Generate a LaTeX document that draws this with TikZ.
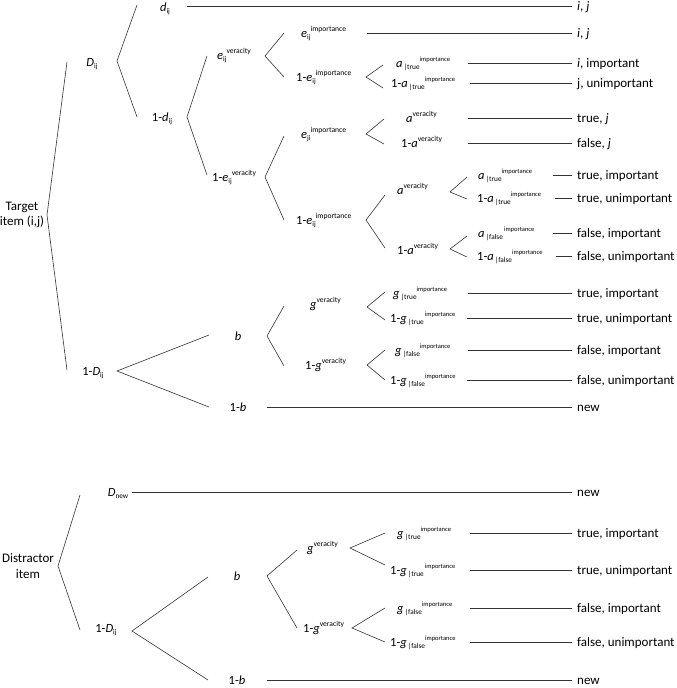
\documentclass[tikz,border=0pt]{standalone}
\usepackage{fontspec}
\setmainfont{Carlito}
\newcommand\lsub[1]{\raisebox{-0.4ex}{\fontsize{7.3}{8}\selectfont #1}}
\newcommand\lsup[1]{\raisebox{0.9ex}{\fontsize{7.6}{8}\selectfont #1}}
\newcommand\lsupr[1]{\raisebox{0.9ex}{\fontsize{6.5}{7}\selectfont #1}}
\newcommand\mkfork[7]{%
  \coordinate (#1u) at (#2,#3);
  \coordinate (#1) at (#4,#5);
  \coordinate (#1d) at (#6,#7);
  \draw[br] (#1u) -- (#1) -- (#1d);}
\newcommand\mkleaf[5]{%
  \coordinate (#1s) at (#2,#4);
  \node[fin] (#1t) at (#3,#4+4) {#5};
  \draw[br, shorten >=5pt] (#1s) -- (#1s -| #1t.west);}
\begin{document}
\begin{tikzpicture}[x=1pt,y=-1pt,
  br/.style={draw=black!80, line width=0.6pt},
  lbl/.style={inner sep=0pt, anchor=base, font=\fontsize{12.5}{14}\selectfont},
  lblw/.style={lbl, anchor=base west},
  fin/.style={inner sep=0pt, anchor=base west, font=\fontsize{13}{15}\selectfont},
  root/.style={inner sep=0pt, align=center, font=\fontsize{13}{15.5}\selectfont}]
\useasboundingbox (0,0) rectangle (677,688);

% ---------------- Target item ----------------
\node[root] (target) at (22,215) {Target\\item (i,j)};
\mkfork{r1}{67}{62}{47}{215}{67}{370}

\node[lbl] (Dij) at (92,66) {\textit{D}\lsub{ij}};
\mkfork{fD}{137}{5}{117}{61}{137}{117}

\node[lbl] (dij) at (165,11) {\textit{d}\lsub{ij}};
\mkleaf{L1}{187}{577}{6}{\textit{i}, \textit{j}}

\node[lbl] (omdij) at (162,121) {1-\textit{d}\lsub{ij}};
\mkfork{fd}{207}{56}{187}{117}{207}{175}

\node[lblw] (eijv) at (217,59) {\textit{e}\lsub{ij}\lsup{veracity}};
\mkfork{fev}{284}{33}{265}{56}{284}{77}

\node[lblw] (eiji) at (301,37) {\textit{e}\lsub{ij}\lsup{importance}};
\mkleaf{L2}{367}{577}{33}{\textit{i}, \textit{j}}

\node[lblw] (omeiji) at (296,81) {1-\textit{e}\lsub{ij}\lsup{importance}};
\mkfork{fei}{383}{65}{366}{77}{383}{88}

\node[lblw] (atrue1) at (396,67) {\textit{a}\lsub{\,|true}\lsupr{importance}};
\mkleaf{L3}{468}{577}{63}{\textit{i}, important}
\node[lblw] (omatrue1) at (391,87) {1-\textit{a}\lsub{\,|true}\lsupr{importance}};
\mkleaf{L4}{470}{577}{83}{j, unimportant}

\node[lblw] (omeijv) at (212,181) {1-\textit{e}\lsub{ij}\lsup{veracity}};
\mkfork{fev2}{284}{136}{265}{177}{284}{220}

\node[lblw] (ejii) at (301,138) {\textit{e}\lsub{ji}\lsup{importance}};
\mkfork{fej}{384}{119}{366}{134}{384}{144}

\node[lblw] (av1) at (406,122) {\textit{a}\lsup{veracity}};
\mkleaf{L5}{468}{577}{118}{true, \textit{j}}
\node[lblw] (omav1) at (401,147) {1-\textit{a}\lsup{veracity}};
\mkleaf{L6}{468}{577}{143}{false, \textit{j}}

\node[lblw] (omeiji2) at (296,224) {1-\textit{e}\lsub{ij}\lsup{importance}};
\mkfork{fei2}{385}{195}{366}{220}{385}{248}

\node[lblw] (av2) at (397,194) {\textit{a}\lsup{veracity}};
\mkfork{fav}{467}{177}{450}{192}{467}{199}
\node[lblw] (atrue2) at (478,179) {\textit{a}\lsub{\,|true}\lsupr{importance}};
\mkleaf{L7}{553}{577}{175}{true, important}
\node[lblw] (omatrue2) at (477,202) {1-\textit{a}\lsub{\,|true}\lsupr{importance}};
\mkleaf{L8}{555}{577}{198}{true, unimportant}

\node[lblw] (omav2) at (397,254) {1-\textit{a}\lsup{veracity}};
\mkfork{fomav}{467}{236}{450}{249}{467}{257}
\node[lblw] (afalse) at (478,237) {\textit{a}\lsub{\,|false}\lsupr{\,importance}};
\mkleaf{L9}{553}{577}{233}{false, important}
\node[lblw] (omafalse) at (477,260) {1-\textit{a}\lsub{\,|false}\lsupr{importance}};
\mkleaf{L10}{556}{577}{256}{false, unimportant}

\node[lbl] (omDij) at (93,375) {1-\textit{D}\lsub{ij}};
\mkfork{fomD}{209}{335}{117}{371}{209}{407}

\node[lbl] (b1) at (238,340) {\textit{b}};
\mkfork{fb1}{284}{306}{267}{336}{284}{366}

\node[lblw] (gv1) at (310,308) {\textit{g}\lsup{veracity}};
\mkfork{fgv1}{385}{292}{367}{307}{385}{320}
\node[lblw] (gtrue1) at (393,297) {\textit{g}\lsub{\,|true}\lsupr{importance}};
\mkleaf{L11}{468}{577}{293}{true, important}
\node[lblw] (omgtrue1) at (390,322) {1-\textit{g}\lsub{\,|true}\lsupr{\,importance}};
\mkleaf{L12}{467}{577}{318}{true, unimportant}

\node[lblw] (omgv1) at (305,369) {1-\textit{g}\lsup{veracity}};
\mkfork{fomgv1}{385}{350}{367}{365}{385}{380}
\node[lblw] (gfalse1) at (395,354) {\textit{g}\lsub{\,|false}\lsupr{importance}};
\mkleaf{L13}{468}{577}{350}{false, important}
\node[lblw] (omgfalse1) at (390,384) {1-\textit{g}\lsub{\,|false}\lsupr{importance}};
\mkleaf{L14}{467}{577}{380}{false, unimportant}

\node[lbl] (omb1) at (238,411) {1-\textit{b}};
\mkleaf{L15}{267}{577}{407}{new}

% ---------------- Distractor item ----------------
\node[root] (distr) at (28,566) {Distractor\\item};
\mkfork{r2}{80}{495}{58}{566}{80}{630}

\node[lbl] (Dnew) at (118,496) {\textit{D}\lsub{new}};
\mkleaf{L16}{132}{577}{492}{new}

\node[lbl] (omDij2) at (106,632) {1-\textit{D}\lsub{ij}};
\mkfork{fomD2}{208}{577}{132}{631}{208}{680}

\node[lbl] (b2) at (237,580) {\textit{b}};
\mkfork{fb2}{297}{550}{267}{576}{297}{628}

\node[lblw] (gv2) at (307,552) {\textit{g}\lsup{veracity}};
\mkfork{fgv2}{385}{533}{350}{548}{385}{565}
\node[lblw] (gtrue2) at (397,537) {\textit{g}\lsub{\,|true}\lsupr{importance}};
\mkleaf{L17}{470}{577}{533}{true, important}
\node[lblw] (omgtrue2) at (390,574) {1-\textit{g}\lsub{\,|true}\lsupr{\,importance}};
\mkleaf{L18}{470}{577}{570}{true, unimportant}

\node[lblw] (omgv2) at (303,632) {1-\textit{g}\lsup{veracity}};
\mkfork{fomgv2}{385}{608}{352}{628}{385}{642}
\node[lblw] (gfalse2) at (397,612) {\textit{g}\lsub{\,|false}\lsupr{importance}};
\mkleaf{L19}{470}{577}{608}{false, important}
\node[lblw] (omgfalse2) at (390,646) {1-\textit{g}\lsub{\,|false}\lsupr{importance}};
\mkleaf{L20}{470}{577}{642}{false, unimportant}

\node[lbl] (omb2) at (237,684) {1-\textit{b}};
\mkleaf{L21}{267}{577}{680}{new}
\end{tikzpicture}
\end{document}
